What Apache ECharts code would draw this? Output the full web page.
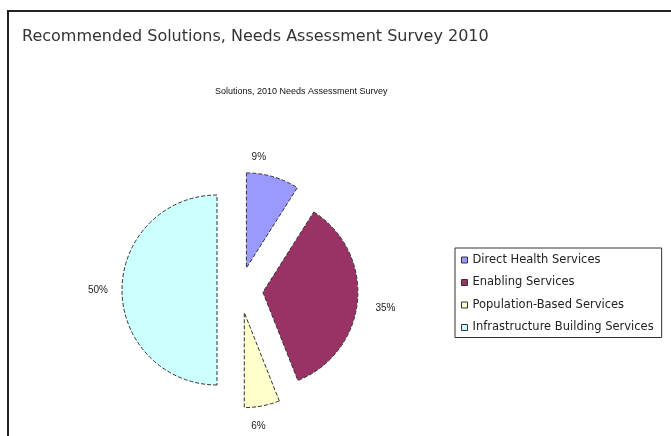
<!DOCTYPE html>
<html>
<head>
<meta charset="utf-8">
<script src="https://cdn.jsdelivr.net/npm/echarts@6/dist/echarts.min.js"></script>
<style>
  html, body { margin: 0; padding: 0; background: #fff; }
  #chart { width: 671px; height: 436px; }
</style>
</head>
<body>
<div id="chart"></div>
<script>
// Survey categories and their share of recommended solutions (%)
const categories = [
  'Direct Health Services',
  'Enabling Services',
  'Population-Based Services',
  'Infrastructure Building Services'
];
const shares = [9, 35, 6, 50];
const sliceColors = ['#9999ff', '#993366', '#ffffcc', '#ccffff'];
// nudges for the percentage labels around the exploded pie
const labelNudges = [[-28, -14], [7, 7], [-17, 14], [-3, 0]];

const chart = echarts.init(document.getElementById('chart'), null, { renderer: 'canvas' });

const pieData = categories.map((name, i) => ({
  name: name,
  value: shares[i],
  selected: true,
  itemStyle: { color: sliceColors[i] }
}));

chart.setOption({
  backgroundColor: '#ffffff',
  animation: false,
  title: [
    {
      text: 'Recommended Solutions, Needs Assessment Survey 2010',
      left: 17,
      top: 24,
      textStyle: { fontFamily: 'DejaVu Sans', fontSize: 16, fontWeight: 'normal', color: '#333' }
    },
    {
      text: 'Solutions, 2010 Needs Assessment Survey',
      left: 210,
      top: 82,
      textStyle: { fontFamily: 'Liberation Sans', fontSize: 9, fontWeight: 'normal', color: '#111' }
    }
  ],
  graphic: [
    {
      type: 'rect',
      shape: { x: 8, y: 11, width: 700, height: 460 },
      style: { fill: 'none', stroke: '#222', lineWidth: 2 },
      silent: true
    }
  ],
  legend: {
    orient: 'vertical',
    left: 455,
    top: 248,
    padding: [6, 8, 4, 6],
    itemGap: 10.5,
    itemWidth: 6,
    itemHeight: 6,
    icon: 'rect',
    selectedMode: false,
    borderColor: '#333',
    borderWidth: 1,
    itemStyle: { borderColor: '#333', borderWidth: 1, borderType: 'solid' },
    textStyle: { fontFamily: 'DejaVu Sans', fontSize: 11.5, color: '#222' },
    data: categories
  },
  series: [
    {
      type: 'pie',
      center: [240, 290],
      radius: 95,
      startAngle: 90,
      clockwise: true,
      selectedMode: 'multiple',
      selectedOffset: 23,
      avoidLabelOverlap: false,
      itemStyle: {
        borderColor: '#333',
        borderWidth: 1,
        borderType: 'dashed'
      },
      label: {
        show: true,
        position: 'outside',
        formatter: '{c}%',
        fontFamily: 'Liberation Sans',
        fontSize: 10,
        color: '#222'
      },
      labelLine: { show: false, length: 6, length2: 0 },
      labelLayout: function (params) {
        const n = labelNudges[params.dataIndex] || [0, 0];
        return { dx: n[0], dy: n[1] };
      },
      emphasis: { disabled: true },
      data: pieData
    }
  ]
});
</script>
</body>
</html>
